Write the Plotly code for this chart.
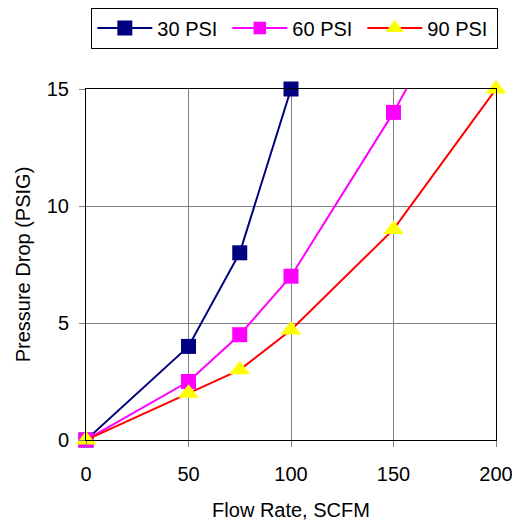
import plotly.graph_objects as go

# Data
flow_30 = [0, 50, 75, 100]
drop_30 = [0, 4, 8, 15]
flow_60 = [0, 50, 75, 100, 150, 200]
drop_60 = [0, 2.5, 4.5, 7, 14, 22]
flow_90 = [0, 50, 75, 100, 150, 200]
drop_90 = [0, 2, 3, 4.7, 9, 15]
series_names = ["30 PSI", "60 PSI", "90 PSI"]
x_ticks = [0, 50, 100, 150, 200]
y_ticks = [0, 5, 10, 15]

Y_MAX = 15
MS = 15
FONT = "Liberation Sans, Arial, sans-serif"

def sizes(ys, s):
    return [s if y <= Y_MAX else 0 for y in ys]

fig = go.Figure()
fig.add_trace(go.Scatter(
    x=flow_30, y=drop_30, name=series_names[0], mode="lines+markers",
    line=dict(color="#000080", width=2),
    marker=dict(symbol="square", size=sizes(drop_30, MS), color="#000080",
                opacity=1, line=dict(width=0)),
    cliponaxis=False))
fig.add_trace(go.Scatter(
    x=flow_60, y=drop_60, name=series_names[1], mode="lines+markers",
    line=dict(color="#FF00FF", width=2),
    marker=dict(symbol="square", size=sizes(drop_60, MS), color="#FF00FF",
                opacity=1, line=dict(width=0)),
    cliponaxis=False))
fig.add_trace(go.Scatter(
    x=flow_90, y=drop_90, name=series_names[2], mode="lines+markers",
    line=dict(color="#FF0000", width=2),
    marker=dict(symbol="triangle-up", size=sizes(drop_90, 18), color="#FFFF00",
                opacity=1, line=dict(width=0)),
    cliponaxis=False))

axis_common = dict(
    showgrid=True, gridcolor="#808080", gridwidth=1,
    showline=True, linecolor="#000000", linewidth=1, mirror=True,
    ticks="outside", ticklen=6, tickcolor="#808080",
    zeroline=False, tickfont=dict(size=20, color="#000000", family=FONT),
    automargin=False,
)

fig.update_xaxes(range=[0, 200], tickvals=x_ticks, ticklabelstandoff=10, **axis_common,
                 title=dict(text="Flow Rate, SCFM", standoff=20,
                            font=dict(size=20, family=FONT, color="#000")))
fig.update_yaxes(range=[0, 15], tickvals=y_ticks, ticklabelstandoff=6, **axis_common,
                 title=dict(text="Pressure Drop (PSIG)", standoff=10,
                            font=dict(size=20, family=FONT, color="#000")))

fig.update_layout(
    width=512, height=513,
    margin=dict(l=78, r=24, t=81, b=81, autoexpand=False),
    paper_bgcolor="#ffffff", plot_bgcolor="#ffffff",
    font=dict(family=FONT, size=20, color="#000000"),
    showlegend=True,
    legend=dict(orientation="h", x=0.013, xanchor="left", y=1.232, yanchor="top",
                bordercolor="#000000", borderwidth=1, bgcolor="#ffffff",
                font=dict(size=20, family=FONT, color="#000"),
                itemwidth=55, entrywidth=65),
)

fig.write_html("out.html")
